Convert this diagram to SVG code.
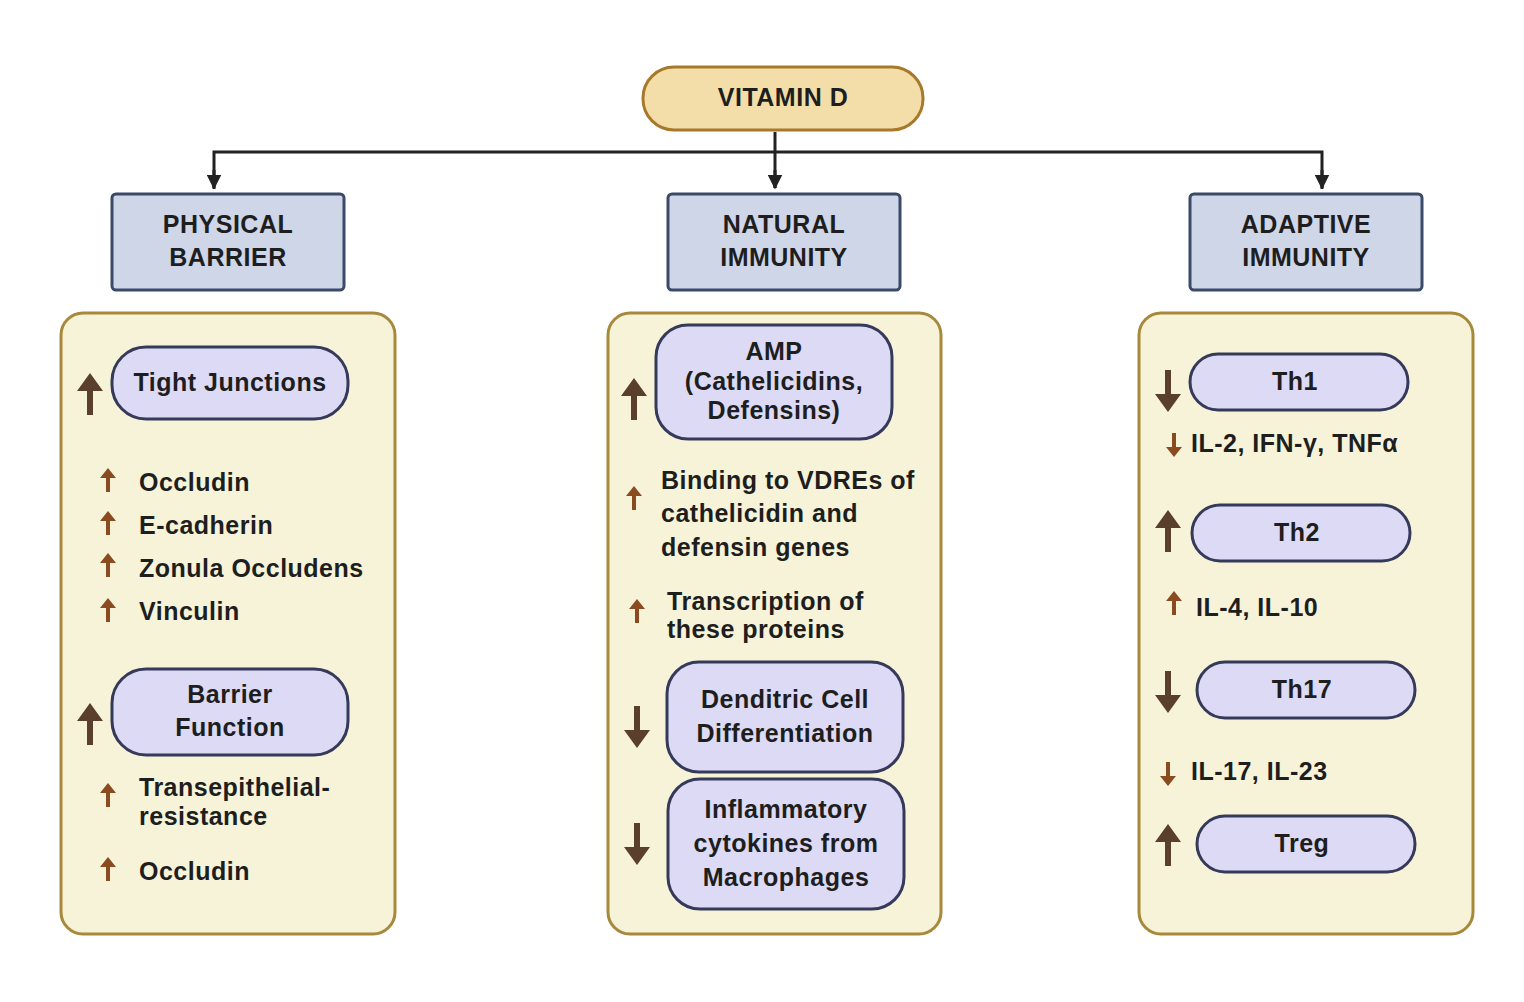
<svg xmlns="http://www.w3.org/2000/svg" width="1524" height="1002" viewBox="0 0 1524 1002">
<defs>
<style>
text{font-family:"Liberation Sans",Arial,sans-serif;font-weight:bold;fill:#1e1e1e;font-size:25px;letter-spacing:0.5px}
.c{text-anchor:middle}
.panel{fill:#f6f3d9;stroke:#a8893c;stroke-width:3}
.hdr{fill:#cfd6e8;stroke:#3b4a68;stroke-width:3}
.pill{fill:#dcdaf4;stroke:#363a5a;stroke-width:3}
.con{fill:none;stroke:#222;stroke-width:3}
</style>
<marker id="ah" viewBox="0 0 10 10" refX="9" refY="5" markerWidth="5" markerHeight="5" orient="auto"><path d="M0,0L10,5L0,10z" fill="#222"/></marker>
<path id="bu" d="M-3,42V18H-13L0,0L13,18H3V42Z" fill="#5a3f2c"/>
<path id="bd" d="M-3,0V24H-13L0,42L13,24H3V0Z" fill="#5a3f2c"/>
<path id="su" d="M-2,24V10H-8L0,0L8,10H2V24Z" fill="#8a4b20"/>
<path id="sd" d="M-2,0V14H-8L0,24L8,14H2V0Z" fill="#8a4b20"/>
</defs>
<rect width="1524" height="1002" fill="#fff"/>
<g id="connectors">
<path class="con" d="M775,132V188"/>
<path class="con" d="M214,189V152H1322V189"/>
<path class="con" d="M214,170V188" marker-end="url(#ah)"/>
<path class="con" d="M775,170V188" marker-end="url(#ah)"/>
<path class="con" d="M1322,170V188" marker-end="url(#ah)"/>
</g>
<g id="vitd"><rect x="643" y="67" width="280" height="63" rx="31" fill="#f3dea9" stroke="#a8782b" stroke-width="3"/><text class="c" x="783" y="106">VITAMIN D</text></g>
<g id="h1"><rect class="hdr" x="112" y="194" width="232" height="96" rx="4"/><text class="c" x="228" y="233">PHYSICAL</text><text class="c" x="228" y="266">BARRIER</text></g>
<g id="h2"><rect class="hdr" x="668" y="194" width="232" height="96" rx="4"/><text class="c" x="784" y="233">NATURAL</text><text class="c" x="784" y="266">IMMUNITY</text></g>
<g id="h3"><rect class="hdr" x="1190" y="194" width="232" height="96" rx="4"/><text class="c" x="1306" y="233">ADAPTIVE</text><text class="c" x="1306" y="266">IMMUNITY</text></g>

<g id="p1"><rect class="panel" x="61" y="313" width="334" height="621" rx="22"/>
<use href="#bu" x="90" y="373"/>
<rect class="pill" x="112" y="347" width="236" height="72" rx="34"/><text class="c" x="230" y="391">Tight Junctions</text>
<use href="#su" x="108" y="468"/><text x="139" y="491">Occludin</text>
<use href="#su" x="108" y="511"/><text x="139" y="534">E-cadherin</text>
<use href="#su" x="108" y="553"/><text x="139" y="577">Zonula Occludens</text>
<use href="#su" x="108" y="598"/><text x="139" y="620">Vinculin</text>
<use href="#bu" x="90" y="703"/>
<rect class="pill" x="112" y="669" width="236" height="86" rx="34"/><text class="c" x="230" y="703">Barrier</text><text class="c" x="230" y="736">Function</text>
<use href="#su" x="108" y="783"/><text x="139" y="796">Transepithelial-</text><text x="139" y="825">resistance</text>
<use href="#su" x="108" y="857"/><text x="139" y="880">Occludin</text>
</g>

<g id="p2"><rect class="panel" x="608" y="313" width="333" height="621" rx="22"/>
<use href="#bu" x="634" y="378"/>
<rect class="pill" x="656" y="325" width="236" height="114" rx="32"/><text class="c" x="774" y="360">AMP</text><text class="c" x="774" y="390">(Cathelicidins,</text><text class="c" x="774" y="419">Defensins)</text>
<use href="#su" x="634" y="486"/><text x="661" y="489">Binding to VDREs of</text><text x="661" y="522">cathelicidin and</text><text x="661" y="556">defensin genes</text>
<use href="#su" x="637" y="599"/><text x="667" y="610">Transcription of</text><text x="667" y="638">these proteins</text>
<use href="#bd" x="637" y="706"/>
<rect class="pill" x="667" y="662" width="236" height="110" rx="32"/><text class="c" x="785" y="708">Denditric Cell</text><text class="c" x="785" y="742">Differentiation</text>
<use href="#bd" x="637" y="823"/>
<rect class="pill" x="668" y="779" width="236" height="130" rx="32"/><text class="c" x="786" y="818">Inflammatory</text><text class="c" x="786" y="852">cytokines from</text><text class="c" x="786" y="886">Macrophages</text>
</g>

<g id="p3"><rect class="panel" x="1139" y="313" width="334" height="621" rx="22"/>
<use href="#bd" x="1168" y="370"/>
<rect class="pill" x="1190" y="354" width="218" height="56" rx="28"/><text class="c" x="1295" y="390">Th1</text>
<use href="#sd" x="1174" y="433"/><text x="1191" y="452">IL-2, IFN-γ, TNFα</text>
<use href="#bu" x="1168" y="510"/>
<rect class="pill" x="1192" y="505" width="218" height="56" rx="28"/><text class="c" x="1297" y="541">Th2</text>
<use href="#su" x="1174" y="591"/><text x="1196" y="616">IL-4, IL-10</text>
<use href="#bd" x="1168" y="671"/>
<rect class="pill" x="1197" y="662" width="218" height="56" rx="28"/><text class="c" x="1302" y="698">Th17</text>
<use href="#sd" x="1168" y="762"/><text x="1191" y="780">IL-17, IL-23</text>
<use href="#bu" x="1168" y="824"/>
<rect class="pill" x="1197" y="816" width="218" height="56" rx="28"/><text class="c" x="1302" y="852">Treg</text>
</g>
</svg>
